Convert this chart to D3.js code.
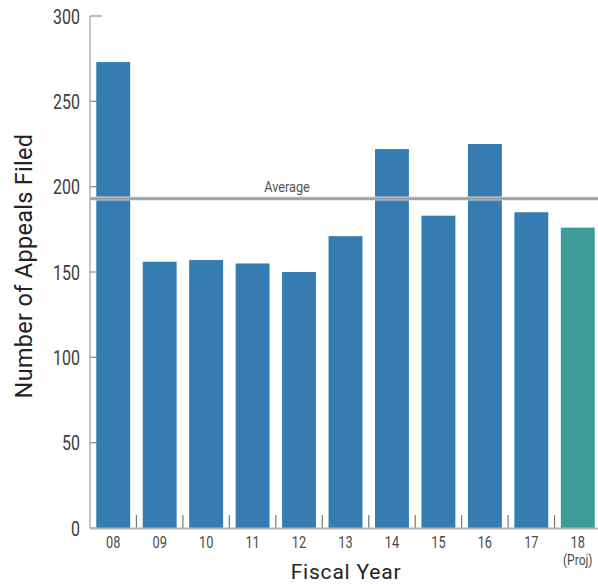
<!DOCTYPE html>
<html>
<head>
<meta charset="utf-8">
<script src="https://cdn.jsdelivr.net/npm/d3@7"></script>
<style>
  body { margin: 0; background: #fff; }
  svg { display: block; }
  text { font-family: "Roboto", "Liberation Sans", sans-serif; }
</style>
</head>
<body>
<svg id="chart" width="598" height="585"></svg>
<script>
// Appeals filed per fiscal year
const years = ["08", "09", "10", "11", "12", "13", "14", "15", "16", "17", "18"];
const appeals = [273, 156, 157, 155, 150, 171, 222, 183, 225, 185, 176];
const projected = [false, false, false, false, false, false, false, false, false, false, true];
const averageValue = 193;
const yTicks = [0, 50, 100, 150, 200, 250, 300];

const svg = d3.select("#chart");
const plotLeft = 90, plotTop = 16, plotBottom = 528, plotRight = 601;

const x = d3.scaleBand().domain(years).range([plotLeft, plotRight]).paddingInner(0.27).paddingOuter(0.135);
const y = d3.scaleLinear().domain([0, 300]).range([plotBottom, plotTop]);

// narrow text: place at (px, py) and squeeze horizontally
function narrow(sel, px, py, sx) {
  sel.attr("x", 0).attr("y", 0)
    .attr("transform", (d, i) => `translate(${typeof px === "function" ? px(d, i) : px},${typeof py === "function" ? py(d, i) : py}) scale(${sx},1)`);
}

// y axis: tick marks pointing inward, labels on the left
const yAxis = svg.append("g").attr("transform", `translate(${plotLeft},0)`);
yAxis.append("line").attr("x1", 0).attr("x2", 0).attr("y1", y(300)).attr("y2", y(0))
  .attr("stroke", "#8a8a8a").attr("stroke-width", 1);
yAxis.selectAll("line.tick").data(yTicks).join("line").attr("class", "tick")
  .attr("x1", 0).attr("x2", 12).attr("y1", d => y(d)).attr("y2", d => y(d))
  .attr("stroke", "#8a8a8a").attr("stroke-width", 1.2);
yAxis.selectAll("text").data(yTicks).join("text")
  .attr("text-anchor", "end").attr("font-size", 21).attr("font-weight", 400).attr("fill", "#3c3c3c")
  .attr("dy", "0.36em")
  .call(narrow, -10, d => y(d), 0.76)
  .text(d => d);

// x axis boundary ticks between bands
const bounds = years.slice(1).map(d => x(d) - x.step() * x.paddingInner() / 2);
svg.selectAll("line.xtick").data(bounds).join("line").attr("class", "xtick")
  .attr("x1", d => d).attr("x2", d => d).attr("y1", plotBottom - 13).attr("y2", plotBottom)
  .attr("stroke", "#777").attr("stroke-width", 1.2);

// bars
svg.selectAll("rect.bar").data(years).join("rect").attr("class", "bar")
  .attr("x", d => x(d)).attr("width", x.bandwidth())
  .attr("y", (d, i) => y(appeals[i])).attr("height", (d, i) => y(0) - y(appeals[i]))
  .attr("fill", (d, i) => projected[i] ? "#3f9b98" : "#347cb1");

// baseline
svg.append("line").attr("x1", plotLeft).attr("x2", 598).attr("y1", plotBottom + 0.5).attr("y2", plotBottom + 0.5)
  .attr("stroke", "#b5b5b5").attr("stroke-width", 2);

// average line
svg.append("line").attr("x1", plotLeft).attr("x2", 598).attr("y1", y(averageValue)).attr("y2", y(averageValue))
  .attr("stroke", "#d6d6d6").attr("stroke-width", 4);
svg.append("line").attr("x1", plotLeft).attr("x2", 598).attr("y1", y(averageValue)).attr("y2", y(averageValue))
  .attr("stroke", "#999").attr("stroke-width", 2.2);
svg.append("text")
  .attr("text-anchor", "middle").attr("font-size", 15).attr("fill", "#555")
  .call(narrow, 287, y(averageValue) - 7, 0.85)
  .text("Average");

// x labels
svg.selectAll("text.xl").data(years).join("text").attr("class", "xl")
  .attr("text-anchor", "middle").attr("font-size", 16).attr("fill", "#4a4a4a")
  .call(narrow, d => x(d) + x.bandwidth() / 2, 548, 0.8)
  .text(d => d);
svg.append("text")
  .attr("text-anchor", "middle").attr("font-size", 15).attr("fill", "#4a4a4a")
  .call(narrow, x("18") + x.bandwidth() / 2, 565, 0.8)
  .text("(Proj)");

// axis titles
svg.append("text").attr("x", 346).attr("y", 579).attr("text-anchor", "middle")
  .attr("font-size", 21).attr("letter-spacing", 0.8).attr("fill", "#222").attr("font-weight", 400)
  .text("Fiscal Year");
svg.append("text").attr("transform", "translate(32,266) rotate(-90)").attr("text-anchor", "middle")
  .attr("font-size", 23.5).attr("letter-spacing", 0.3).attr("fill", "#222").attr("font-weight", 400)
  .text("Number of Appeals Filed");
</script>
</body>
</html>
